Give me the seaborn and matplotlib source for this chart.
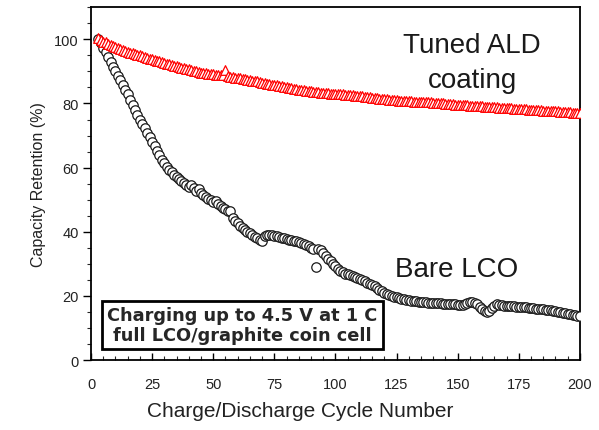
import numpy as np
import pandas as pd
import matplotlib
matplotlib.use("Agg")
import matplotlib.pyplot as plt
import seaborn as sns

# ---------------- data ----------------
cycles = list(range(3, 201))

ald_coating = [
    100.3, 99.8, 99.3, 99.0, 98.6, 98.3, 97.9, 97.6, 97.2, 96.9,
    96.6, 96.3, 96.0, 95.8, 95.6, 95.4, 95.2, 95.0, 94.7, 94.5,
    94.2, 94.0, 93.8, 93.5, 93.3, 93.1, 92.8, 92.6, 92.4, 92.2,
    92.0, 91.8, 91.6, 91.4, 91.2, 91.0, 90.8, 90.6, 90.4, 90.2,
    90.0, 89.8, 89.6, 89.5, 89.4, 89.3, 89.2, 89.1, 89.0, 88.9,
    88.9, 88.8, 90.5, 88.6, 88.4, 88.2, 88.0, 87.9, 87.8, 87.6,
    87.5, 87.4, 87.2, 87.1, 87.0, 86.9, 86.7, 86.5, 86.4, 86.2,
    86.0, 85.9, 85.8, 85.6, 85.4, 85.3, 85.2, 85.0, 84.9, 84.8,
    84.6, 84.5, 84.3, 84.2, 84.1, 84.0, 83.9, 83.8, 83.7, 83.6,
    83.5, 83.4, 83.3, 83.3, 83.2, 83.1, 83.1, 83.0, 82.9, 82.8,
    82.8, 82.7, 82.6, 82.6, 82.5, 82.4, 82.4, 82.3, 82.2, 82.1,
    82.0, 81.9, 81.8, 81.7, 81.6, 81.5, 81.4, 81.4, 81.3, 81.2,
    81.1, 81.0, 81.0, 80.9, 80.9, 80.8, 80.8, 80.7, 80.7, 80.6,
    80.6, 80.5, 80.5, 80.4, 80.4, 80.3, 80.3, 80.2, 80.2, 80.1,
    80.0, 80.0, 79.9, 79.9, 79.8, 79.7, 79.6, 79.6, 79.5, 79.5,
    79.4, 79.4, 79.3, 79.3, 79.2, 79.2, 79.1, 79.1, 79.0, 79.0,
    78.9, 78.9, 78.8, 78.8, 78.7, 78.7, 78.6, 78.6, 78.5, 78.5,
    78.4, 78.4, 78.3, 78.3, 78.2, 78.2, 78.1, 78.1, 78.0, 78.0,
    77.9, 77.9, 77.8, 77.8, 77.7, 77.7, 77.6, 77.6, 77.5, 77.4,
    77.4, 77.3, 77.3, 77.2, 77.1, 77.1, 77.0, 76.9,
]

bare_lco = [
    100.0, 98.8, 97.4, 95.9, 94.5, 93.0, 91.5, 90.0, 88.6, 87.2,
    85.8, 84.3, 82.8, 81.2, 79.6, 78.0, 76.5, 75.0, 73.6, 72.2,
    70.8, 69.4, 68.0, 66.6, 65.2, 63.8, 62.5, 61.3, 60.2, 59.4,
    58.6, 57.8, 57.1, 56.4, 55.8, 55.2, 54.6, 54.0, 54.6, 53.6,
    52.8, 53.3, 52.2, 51.5, 50.9, 50.3, 49.8, 49.2, 49.6, 48.6,
    48.0, 47.5, 47.0, 46.6, 46.4, 44.2, 43.4, 42.6, 41.9, 41.3,
    40.6, 40.0, 39.5, 39.0, 38.5, 38.0, 37.5, 37.0, 38.6, 39.0,
    39.0, 38.9, 38.8, 38.6, 38.4, 38.2, 38.0, 37.8, 37.6, 37.4,
    37.2, 37.0, 36.7, 36.4, 36.1, 35.8, 35.5, 35.1, 34.6, 29.0,
    34.8, 34.4, 33.4, 32.4, 31.6, 30.8, 30.0, 29.2, 28.4, 27.8,
    27.4, 27.0, 26.8, 26.5, 26.2, 25.9, 25.6, 25.3, 25.0, 24.6,
    24.2, 23.8, 23.4, 23.0, 22.5, 22.0, 21.5, 21.0, 20.6, 20.3,
    20.0, 19.8, 19.6, 19.4, 19.2, 19.0, 18.8, 18.6, 18.5, 18.4,
    18.3, 18.2, 18.1, 18.0, 18.0, 17.9, 17.9, 17.8, 17.8, 17.7,
    17.7, 17.6, 17.6, 17.5, 17.5, 17.4, 17.4, 17.3, 17.2, 17.3,
    17.5, 17.8, 18.0, 18.1, 17.9, 17.4, 16.6, 15.8, 15.2, 15.0,
    15.4, 16.2, 16.9, 17.4, 17.3, 17.1, 17.0, 16.9, 16.9, 16.8,
    16.8, 16.7, 16.7, 16.6, 16.5, 16.5, 16.4, 16.3, 16.2, 16.1,
    16.0, 15.9, 15.8, 15.7, 15.6, 15.5, 15.4, 15.3, 15.1, 15.0,
    14.8, 14.7, 14.5, 14.4, 14.2, 14.1, 13.9, 13.8,
]

x_ticks = [0, 25, 50, 75, 100, 125, 150, 175, 200]
y_ticks = [0, 20, 40, 60, 80, 100]

df_bare = pd.DataFrame({"cycle": cycles, "retention": bare_lco})
df_ald = pd.DataFrame({"cycle": cycles, "retention": ald_coating})

# ---------------- plot ----------------
sns.set_theme(style="white")
plt.rcParams["font.family"] = ["Liberation Sans", "DejaVu Sans"]

fig = plt.figure(figsize=(5.99, 4.31), dpi=100)
ax = fig.add_axes([0.152, 0.162, 0.816, 0.819])

sns.scatterplot(data=df_bare, x="cycle", y="retention", ax=ax, marker="o",
                s=46, facecolor="white", edgecolor="#1a1a1a", linewidth=0.9,
                zorder=3, legend=False)
sns.scatterplot(data=df_ald, x="cycle", y="retention", ax=ax, marker="^",
                s=48, facecolor="white", edgecolor="#ff0000", linewidth=0.9,
                zorder=4, legend=False)

ax.set_xlim(0, 200)
ax.set_ylim(0, 110)
ax.set_xticks(x_ticks)
ax.set_yticks(y_ticks)
ax.set_xticks(np.arange(0, 201, 5), minor=True)
ax.set_yticks(np.arange(0, 111, 5), minor=True)
ax.tick_params(axis="x", which="major", direction="in", length=5, width=1,
               labelsize=10.5, pad=12, colors="black", labelcolor="#222222")
ax.tick_params(axis="x", which="minor", direction="in", length=3, width=0.8,
               bottom=True)
ax.tick_params(axis="y", which="major", direction="out", length=6, width=1,
               labelsize=10.5, pad=3, colors="black", left=True,
               labelcolor="#222222")
ax.tick_params(axis="y", which="minor", direction="out", length=3, width=0.8,
               left=True)
ax.tick_params(axis="x", bottom=True)

for sp in ax.spines.values():
    sp.set_visible(True)
    sp.set_color("black")
    sp.set_linewidth(1.3)

ax.set_xlabel("Charge/Discharge Cycle Number", fontsize=15, color="#222222")
ax.xaxis.set_label_coords((300 - 91) / 489, -(402 - 361) / 353)
ax.set_ylabel("Capacity Retention (%)", fontsize=11.5, labelpad=6,
              color="#222222")

ax.text(156, 92.8, "Tuned ALD\ncoating", fontsize=20, ha="center",
        va="center", linespacing=1.42, color="#1a1a1a")
ax.text(149.7, 28.5, "Bare LCO", fontsize=20, ha="center", va="center",
        color="#1a1a1a")

ax.text(61.8, 10.9, "Charging up to 4.5 V at 1 C\nfull LCO/graphite coin cell",
        fontsize=12.8, fontweight="bold", family=["DejaVu Sans"], ha="center",
        va="center", linespacing=1.1, zorder=6,
        bbox=dict(boxstyle="square,pad=0.3", facecolor="white",
                  edgecolor="black", linewidth=2.0))

fig.savefig("out.png", dpi=100)
